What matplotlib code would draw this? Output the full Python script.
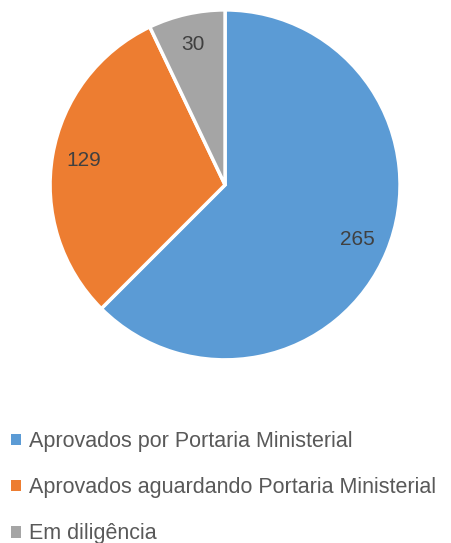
import matplotlib.pyplot as plt
from matplotlib.patches import Patch

labels = ["Aprovados por Portaria Ministerial",
          "Aprovados aguardando Portaria Ministerial",
          "Em diligência"]
values = [265, 129, 30]
colors = ["#5B9BD5", "#ED7D31", "#A5A5A5"]

plt.rcParams['font.family'] = ['Liberation Sans', 'DejaVu Sans']

fig = plt.figure(figsize=(4.51, 5.43), dpi=100)
ax = fig.add_axes([0.111, 0.337, 0.776, 0.645])

wedges, texts, autotexts = ax.pie(
    values, colors=colors, startangle=90, counterclock=False,
    autopct=lambda p: "%d" % round(p * sum(values) / 100),
    pctdistance=0.82,
    wedgeprops=dict(edgecolor="white", linewidth=2.5),
    textprops=dict(color="#404040", fontsize=15))
ax.set_xlim(-1.0, 1.0)
ax.set_ylim(-1.0, 1.0)
ax.set_aspect("equal")

handles = [Patch(facecolor=c, edgecolor="none") for c in colors]
fig.legend(handles, labels, loc="upper left", bbox_to_anchor=(0.005, 0.222),
           frameon=False, fontsize=15.5, labelcolor="#595959",
           handlelength=0.45, handleheight=0.45, handletextpad=0.4,
           labelspacing=1.17, borderaxespad=0)

fig.savefig("out.png", dpi=100)
